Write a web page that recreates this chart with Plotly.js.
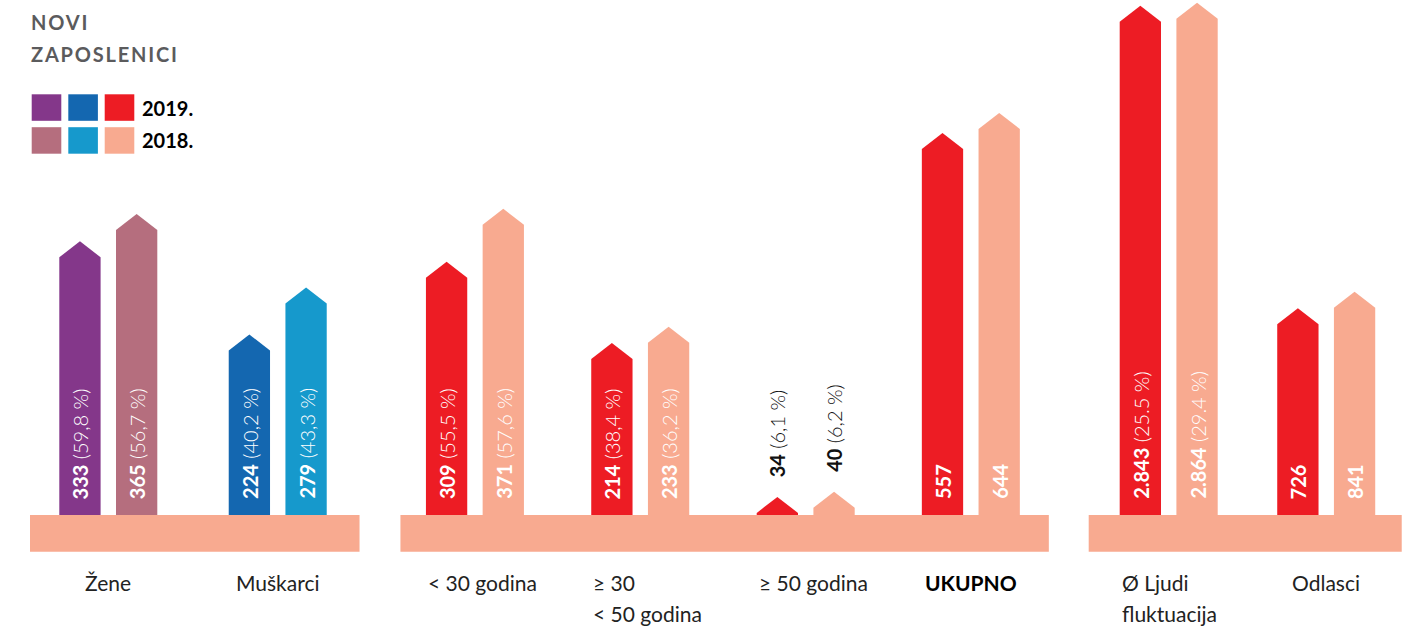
<!DOCTYPE html>
<html>
<head>
<meta charset="utf-8">
<script src="https://cdn.plot.ly/plotly-3.0.1.min.js"></script>
<style>
  html, body { margin: 0; padding: 0; background: #ffffff; }
  #chart { width: 1413px; height: 628px; }
</style>
</head>
<body>
<div id="chart"></div>
<script>
// ---------------- DATA ----------------
const categories = ['Žene', 'Muškarci', '< 30 godina', '≥ 30<br>< 50 godina', '≥ 50 godina', 'UKUPNO', 'Ø Ljudi<br>fluktuacija', 'Odlasci'];
const values2019 = [333, 224, 309, 214, 34, 557, 2843, 726];
const values2018 = [365, 279, 371, 233, 40, 644, 2864, 841];
const share2019 = ['59,8 %', '40,2 %', '55,5 %', '38,4 %', '6,1 %', null, '25.5 %', null];
const share2018 = ['56,7 %', '43,3 %', '57,6 %', '36,2 %', '6,2 %', null, '29.4 %', null];
const yearLabels = ['2019.', '2018.'];
const titleLines = ['NOVI', 'ZAPOSLENICI'];

// ---------------- STYLE / LAYOUT CONSTANTS ----------------
const PURPLE = '#84378A', MAUVE = '#B56E7E', DBLUE = '#1467B0', LBLUE = '#1699CC', RED = '#ED1C24', SALMON = '#F8AA90';
const colors2019 = [PURPLE, DBLUE, RED, RED, RED, RED, RED, RED];
const colors2018 = [MAUVE, LBLUE, SALMON, SALMON, SALMON, SALMON, SALMON, SALMON];
const legendRow2019 = [PURPLE, DBLUE, RED];
const legendRow2018 = [MAUVE, LBLUE, SALMON];
const FONT = 'Lato, "Open Sans", sans-serif';

const W = 1413, H = 628, FLOOR_PX = 515, FLOOR_BOTTOM_PX = 551.7;
const slotPx = 165.3, originPx = 108.3;
const xPos = [0, 1.025, 2.218, 3.218, 4.219, 5.218, 6.415, 7.368];
const axisOf = ['y', 'y', 'y', 'y', 'y', 'y2', 'y3', 'y3'];
// visual scale of each axis (the infographic uses broken scales per block)
const scales = { y: { floor: 31.6, ppu: 0.855 }, y2: { floor: -1035, ppu: 0.2299 }, y3: { floor: -609, ppu: 0.1429 } };
const labelAlign = ['center', 'center', 'left', 'left', 'left', 'center', 'left', 'center'];
const bandGroups = [[0, 1], [2, 5], [6, 7]];
const bandPads = [[29.3, 32.8], [25.5, 29], [31, 26.5]];
const barW = 41.3 / slotPx, pairHalf = 28.35 / slotPx, capPx = 16;
const TITLE_SPACING = 1.8;

const xp = px => px / W;
const yp = py => (FLOOR_PX - py) / FLOOR_PX;
const fmt = v => String(v).replace(/\B(?=(\d{3})+(?!\d))/g, '.');
const range = a => [scales[a].floor, scales[a].floor + FLOOR_PX / scales[a].ppu];

// ---------------- TRACES ----------------
const traces = [];
const annotations = [];

function addBar(i, v, share, color, side, yearIdx) {
  const ax = axisOf[i];
  const s = scales[ax];
  const xc = xPos[i] + side * pairHalf;
  const xl = xc - barW / 2, xr = xc + barW / 2;
  const bottom = s.floor - 4 / s.ppu;
  const cap = capPx / s.ppu;
  traces.push({
    type: 'scatter', mode: 'lines', fill: 'toself',
    x: [xl, xl, xc, xr, xr, xl],
    y: [bottom, v, v + cap, v, bottom, bottom],
    xaxis: 'x', yaxis: ax,
    line: { width: 0, color: color }, fillcolor: color,
    hoverinfo: 'skip', showlegend: false,
    name: yearLabels[yearIdx] + ' ' + categories[i]
  });
  const bodyPx = (v - s.floor) * s.ppu;
  const txt = '<b>' + fmt(v) + '</b>' + (share ? ' (' + share + ')' : '');
  const inside = bodyPx > 60;
  annotations.push({
    xref: 'x', yref: ax,
    x: xc, y: inside ? s.floor : v + cap,
    text: txt, showarrow: false, textangle: -90,
    xanchor: 'center', yanchor: 'bottom',
    yshift: inside ? 14 : 18,
    font: { family: FONT, size: 20, color: inside ? '#ffffff' : '#111111', weight: 300 }
  });
}

for (let i = 0; i < categories.length; i++) {
  addBar(i, values2019[i], share2019[i], colors2019[i], -1, 0);
  addBar(i, values2018[i], share2018[i], colors2018[i], 1, 1);
}

// ---------------- SHAPES (floor bands, legend swatches) ----------------
const shapes = [];
bandGroups.forEach((g, n) => {
  const leftPx = originPx + slotPx * (xPos[g[0]] - pairHalf - barW / 2) - bandPads[n][0];
  const rightPx = originPx + slotPx * (xPos[g[1]] + pairHalf + barW / 2) + bandPads[n][1];
  shapes.push({ type: 'rect', xref: 'paper', yref: 'paper', layer: 'above',
    x0: xp(leftPx), x1: xp(rightPx), y0: yp(FLOOR_BOTTOM_PX), y1: yp(FLOOR_PX),
    fillcolor: SALMON, line: { width: 0 } });
});
const swX = [31.7, 68.3, 104.7], swW = 29.6, swRows = [94.3, 127.2], swH = 26.5;
[legendRow2019, legendRow2018].forEach((row, r) => {
  row.forEach((c, k) => {
    shapes.push({ type: 'rect', xref: 'paper', yref: 'paper',
      x0: xp(swX[k]), x1: xp(swX[k] + swW), y0: yp(swRows[r] + swH), y1: yp(swRows[r]),
      fillcolor: c, line: { width: 0 } });
  });
  annotations.push({ xref: 'paper', yref: 'paper', x: xp(140), y: yp(swRows[r] + swH / 2),
    xanchor: 'left', yanchor: 'middle', showarrow: false, text: '<b>' + yearLabels[r] + '</b>',
    font: { family: FONT, size: 20, color: '#000000' } });
});

// title
titleLines.forEach((t, k) => {
  annotations.push({ xref: 'paper', yref: 'paper', x: xp(29), y: yp(8 + 32 * k),
    xanchor: 'left', yanchor: 'top', showarrow: false, text: '<b>' + t + '</b>',
    font: { family: FONT, size: 20, color: '#5B5B5D' } });
});

// category labels
categories.forEach((c, i) => {
  const lines = c.split('<br>');
  const leftX = xPos[i] - pairHalf - barW / 2;
  lines.forEach((ln, k) => {
    const isTotal = c === 'UKUPNO';
    annotations.push({ xref: 'x', yref: 'paper',
      x: labelAlign[i] === 'left' ? leftX : xPos[i],
      y: yp(568), yshift: -31 * k,
      xanchor: labelAlign[i], yanchor: 'top', showarrow: false,
      text: isTotal ? '<b>' + ln + '</b>' : ln,
      font: { family: FONT, size: 21, color: isTotal ? '#000000' : '#222222' } });
  });
});

const layout = {
  width: W, height: H,
  margin: { l: 0, r: 0, t: 0, b: H - FLOOR_PX, pad: 0 },
  paper_bgcolor: '#ffffff', plot_bgcolor: '#ffffff',
  showlegend: false,
  xaxis: { range: [-originPx / slotPx, (W - originPx) / slotPx], visible: false, fixedrange: true },
  yaxis: { range: range('y'), visible: false, fixedrange: true },
  yaxis2: { range: range('y2'), visible: false, overlaying: 'y', fixedrange: true },
  yaxis3: { range: range('y3'), visible: false, overlaying: 'y', fixedrange: true },
  shapes: shapes,
  annotations: annotations
};

Plotly.newPlot('chart', traces, layout, { staticPlot: true, displayModeBar: false }).then(gd => {
  // letter-spaced title, as in the original artwork (keep left edge fixed)
  gd.querySelectorAll('.annotation-text').forEach(el => {
    const t = el.textContent;
    if (titleLines.indexOf(t) >= 0) {
      el.style.letterSpacing = TITLE_SPACING + 'px';
      el.style.transform = 'translateX(' + (t.length * TITLE_SPACING / 2) + 'px)';
    }
  });
});
</script>
</body>
</html>
